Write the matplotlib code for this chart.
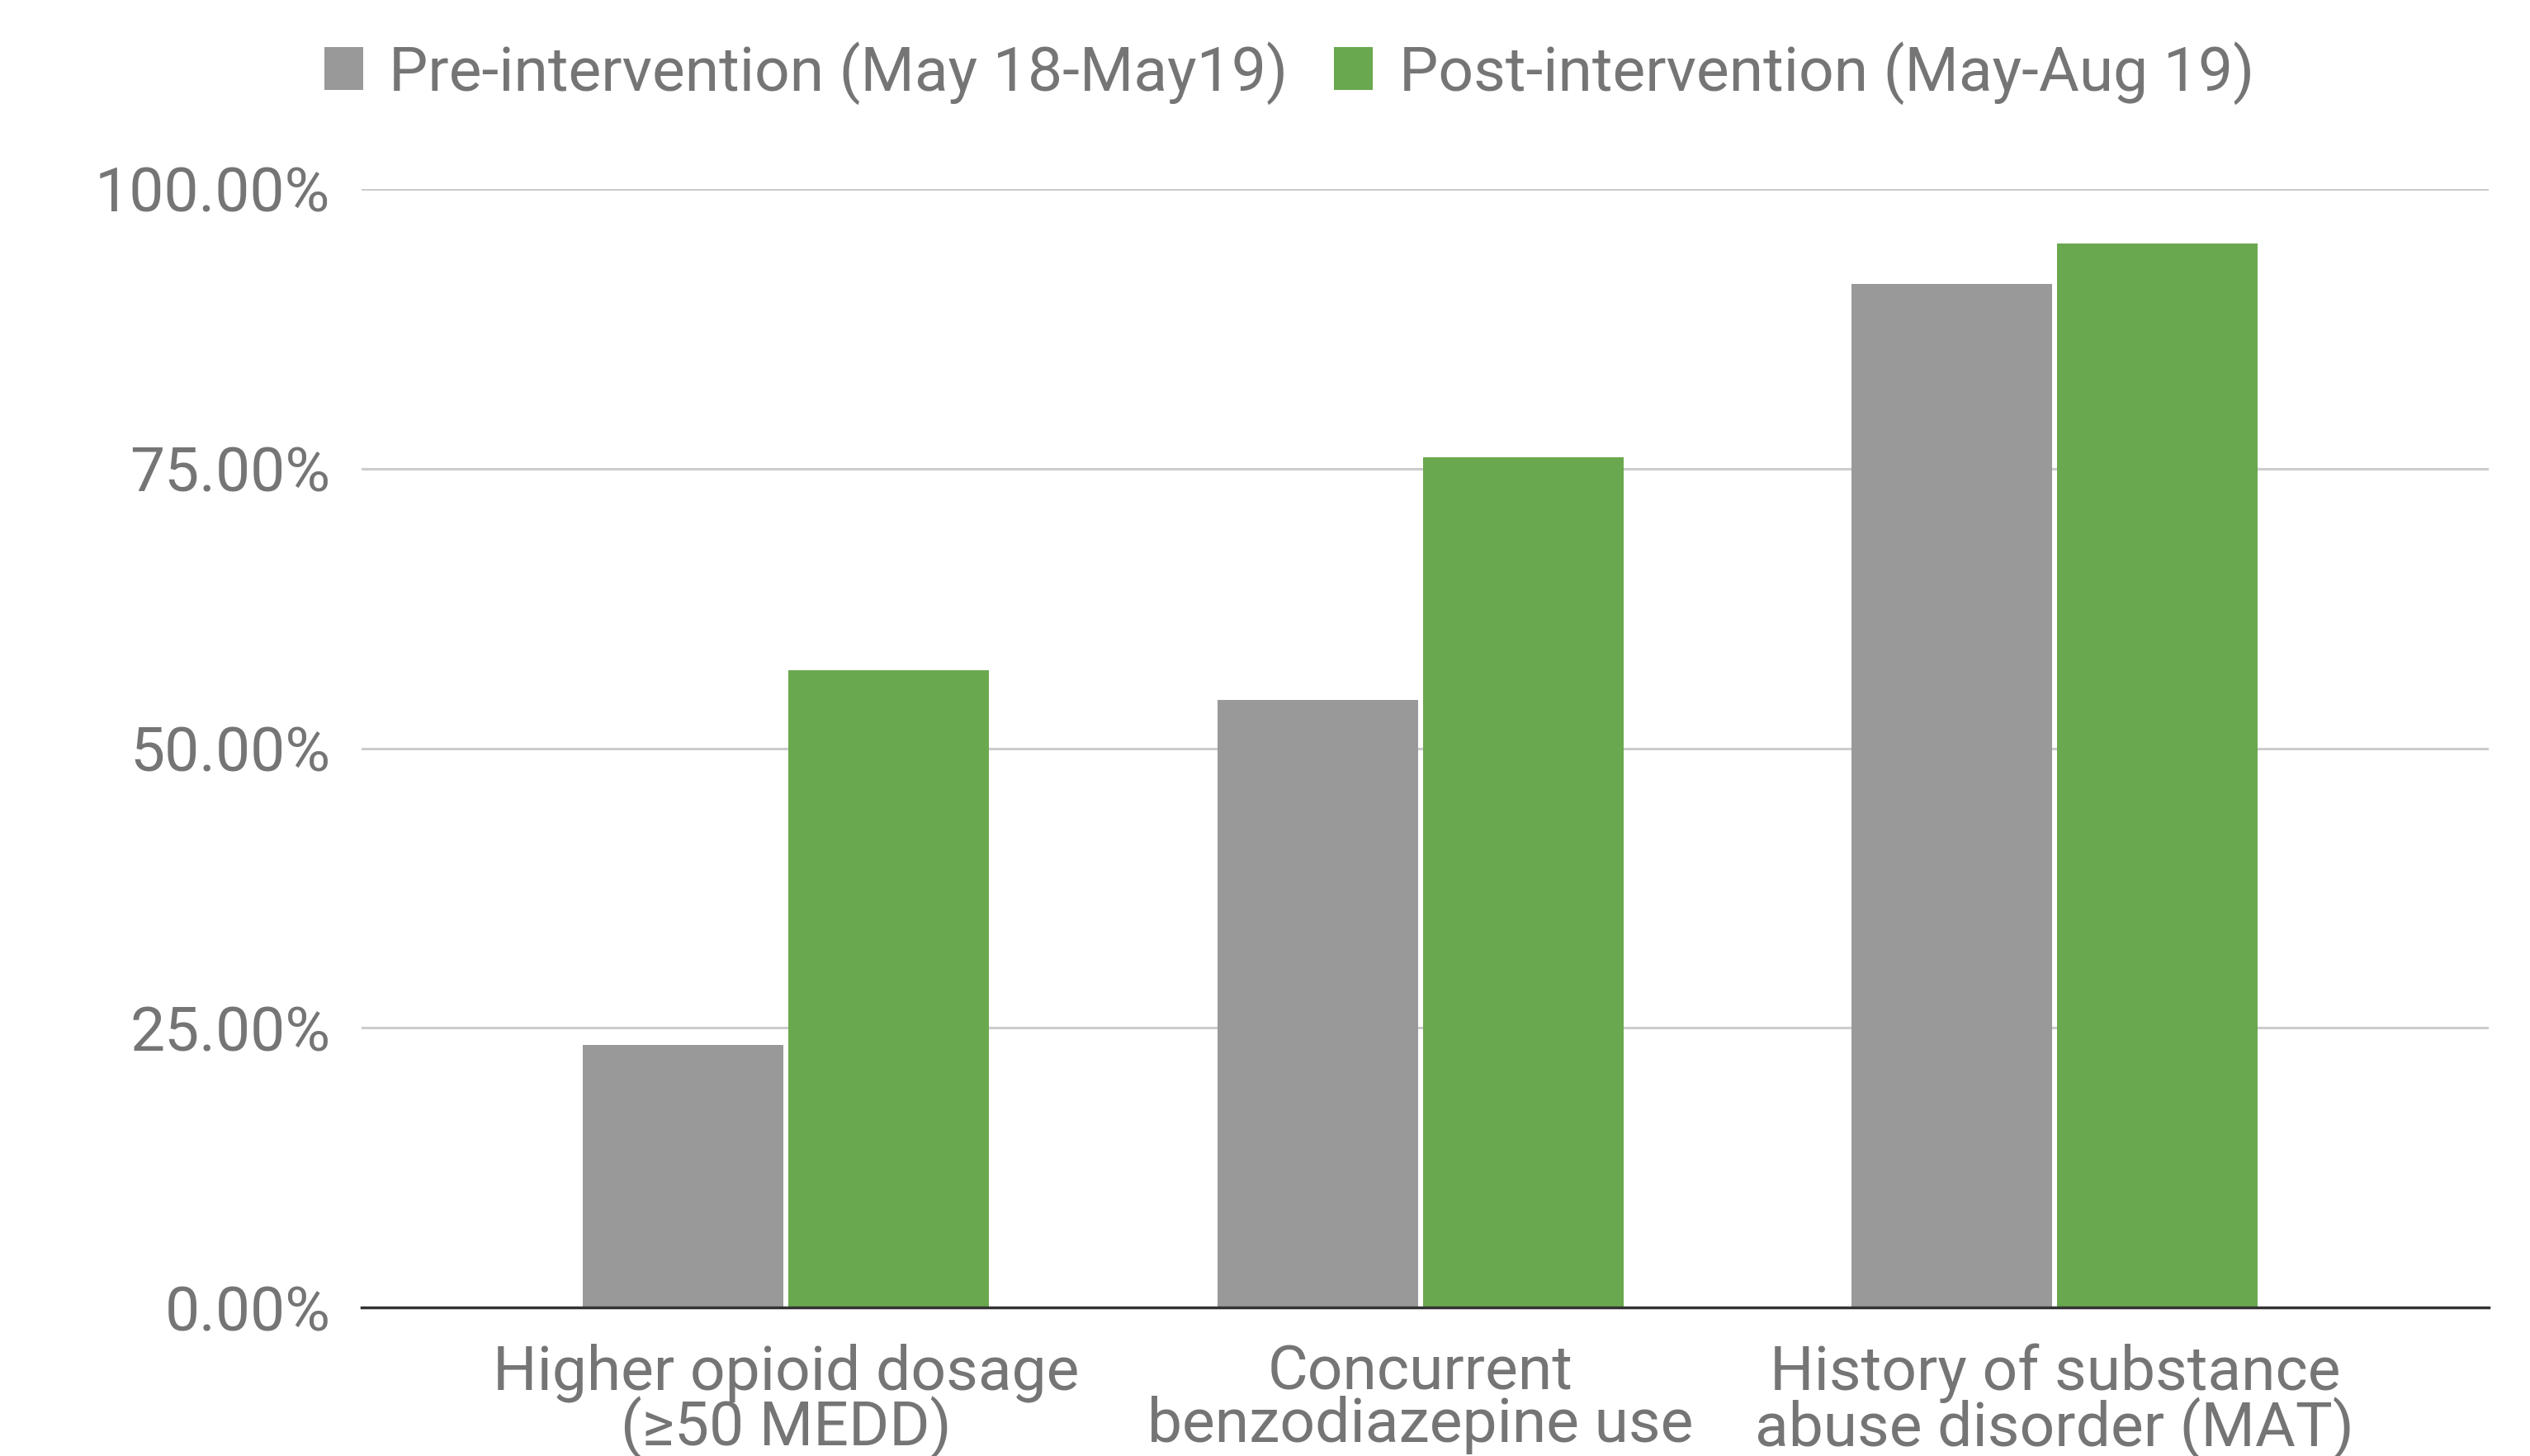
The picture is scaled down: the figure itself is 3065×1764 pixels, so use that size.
import matplotlib
matplotlib.use('Agg')
import matplotlib.pyplot as plt
import numpy as np
from matplotlib.ticker import PercentFormatter

plt.rcParams['font.family'] = ['Roboto', 'DejaVu Sans']

categories = ['Higher opioid dosage\n(≥50 MEDD)',
              'Concurrent\nbenzodiazepine use',
              'History of substance\nabuse disorder (MAT)']
series_names = ['Pre-intervention (May 18-May19)', 'Post-intervention (May-Aug 19)']
pre_values = [0.235, 0.543, 0.915]
post_values = [0.570, 0.760, 0.951]
y_ticks = [0, 0.25, 0.5, 0.75, 1.0]

GRAY = '#999999'
GREEN = '#6aa84f'
TEXT = '#757575'
FS = 54

fig = plt.figure(figsize=(30.65, 17.64), dpi=100, facecolor='w')
ax = fig.add_axes([0.1429, 0.102, 0.8408, 0.7682])

x = np.arange(len(categories))
w = 0.316
ax.bar(x - w / 2 - 0.004, pre_values, w, color=GRAY, label=series_names[0], zorder=3)
ax.bar(x + w / 2 + 0.004, post_values, w, color=GREEN, label=series_names[1], zorder=3)

ax.set_xlim(-0.669, 2.684)
ax.set_ylim(0, 1.0)
ax.set_yticks(y_ticks)
ax.yaxis.set_major_formatter(PercentFormatter(1.0, decimals=2))
ax.set_xticks(x)
ax.set_xticklabels(categories, linespacing=0.88)

ax.grid(axis='y', color='#cccccc', lw=2.2, zorder=0)
ax.set_axisbelow(True)
for s in ['top', 'right', 'left']:
    ax.spines[s].set_visible(False)
ax.spines['bottom'].set_color('#333333')
ax.spines['bottom'].set_linewidth(2.5)
ax.spines['bottom'].set_zorder(4)

ax.tick_params(axis='both', length=0, labelsize=FS, labelcolor=TEXT)
ax.tick_params(axis='y', pad=27)
ax.tick_params(axis='x', pad=31)

fig.legend(loc='center', bbox_to_anchor=(0.5096, 0.950), ncol=2, frameon=False,
           fontsize=FS, labelcolor=TEXT, handlelength=0.63, handleheight=0.68,
           handletextpad=0.42, columnspacing=0.74)

fig.savefig('out.png', dpi=100, facecolor='w')
